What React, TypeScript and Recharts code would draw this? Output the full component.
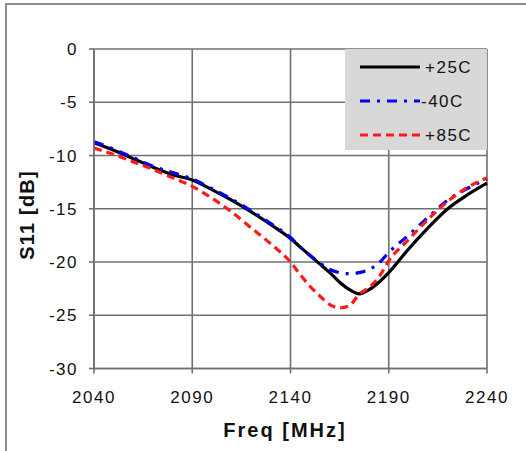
import { LineChart, Line, XAxis, YAxis, CartesianGrid, Legend } from "recharts";

// frequency points (MHz)
const freqs = [
  2040, 2050, 2060, 2070, 2080, 2090, 2100, 2110, 2120, 2130, 2140, 2145, 2150,
  2155, 2160, 2165, 2170, 2175, 2180, 2185, 2190, 2200, 2210, 2220, 2230, 2240,
];

// S11 [dB] per temperature
const s11Plus25 = [
  -8.8, -9.5, -10.3, -11.1, -11.8, -12.3, -13.2, -14.2, -15.3, -16.5, -17.8, -18.6, -19.4,
  -20.2, -21.0, -21.9, -22.6, -23.0, -22.6, -21.9, -21.0, -18.8, -16.8, -15.0, -13.7, -12.6,
];
const s11Minus40 = [
  -8.7, -9.4, -10.2, -11.0, -11.6, -12.2, -13.1, -14.1, -15.2, -16.4, -17.7, -18.6, -19.4,
  -20.1, -20.7, -21.0, -21.1, -21.0, -20.7, -20.1, -19.1, -17.5, -15.8, -14.2, -13.1, -12.2,
];
const s11Plus85 = [
  -9.3, -9.9, -10.6, -11.3, -12.1, -12.9, -14.0, -15.3, -16.8, -18.3, -20.0, -21.2, -22.3,
  -23.2, -24.0, -24.3, -24.1, -23.0, -22.4, -21.4, -19.9, -17.9, -16.0, -14.3, -13.0, -12.1,
];

const seriesNames = ["+25C", "-40C", "+85C"];
const xTicks = [2040, 2090, 2140, 2190, 2240];
const yTicks = [0, -5, -10, -15, -20, -25, -30];

const data = freqs.map((f, i) => ({
  freq: f,
  t25: s11Plus25[i],
  t40: s11Minus40[i],
  t85: s11Plus85[i],
}));

const FONT = "'Liberation Sans', Arial, sans-serif";
const GRID = "#707070";

const lineStyles = [
  { key: "t25", color: "#000000", dash: undefined },
  { key: "t40", color: "#0000ee", dash: "10 7 3 7" },
  { key: "t85", color: "#ff1a1a", dash: "8 5" },
];

function XTick(props: any) {
  const { x, y, payload } = props;
  return (
    <text x={x} y={y} dy="0.71em" textAnchor="middle" fontFamily={FONT} fontSize={17} letterSpacing={1.5} fill="#111">
      {payload.value}
    </text>
  );
}

function YTick(props: any) {
  const { x, y, payload } = props;
  return (
    <text x={x} y={y} dy="0.355em" textAnchor="end" fontFamily={FONT} fontSize={17} letterSpacing={1.5} fill="#111">
      {payload.value}
    </text>
  );
}

function LegendBox() {
  const rows = [18, 52, 86];
  return (
    <svg width={142} height={101} style={{ display: "block", background: "#d8d8d8" }}>
      {lineStyles.map((s, i) => (
        <g key={s.key}>
          <line
            x1={15}
            x2={75}
            y1={rows[i]}
            y2={rows[i]}
            stroke={s.color}
            strokeWidth={3}
            strokeDasharray={s.dash}
          />
          <text x={i === 1 ? 76 : 80} y={rows[i]} dy="0.355em" fontFamily={FONT} fontSize={17} letterSpacing={1.5} fill="#111">
            {seriesNames[i]}
          </text>
        </g>
      ))}
    </svg>
  );
}

export default function App() {
  return (
    <div style={{ position: "absolute", left: 0, top: 0, width: 526, height: 451, background: "#fff", overflow: "hidden" }}>
      <div
        style={{
          position: "absolute",
          left: 5,
          top: 3,
          right: -4,
          bottom: -4,
          borderTop: "2px solid #8c8c8c",
          borderLeft: "2px solid #8c8c8c",
        }}
      />
      <div style={{ position: "absolute", left: 0, top: 0 }}>
        <LineChart width={526} height={451} data={data} margin={{ top: 49, right: 39, left: 0, bottom: 0 }}>
          <CartesianGrid stroke={GRID} strokeWidth={1.6} horizontalValues={yTicks} verticalValues={xTicks} />
          <XAxis
            dataKey="freq"
            type="number"
            domain={[2040, 2240]}
            ticks={xTicks}
            height={82.5}
            tickSize={5}
            tickMargin={17}
            tick={<XTick />}
            stroke={GRID}
            strokeWidth={1.6}
            label={{
              content: (p: any) => {
                const vb = p.viewBox;
                return (
                  <text x={285} y={vb.y + 68} textAnchor="middle" fontFamily={FONT} fontWeight="bold" fontSize={20} letterSpacing={2} fill="#111">
                    Freq [MHz]
                  </text>
                );
              },
            }}
          />
          <YAxis
            type="number"
            domain={[-30, 0]}
            ticks={yTicks}
            width={94}
            tickSize={5}
            tickMargin={11}
            tick={<YTick />}
            stroke={GRID}
            strokeWidth={1.6}
            label={{
              content: () => (
                <text
                  x={0}
                  y={0}
                  transform="translate(34 215) rotate(-90)"
                  textAnchor="middle"
                  fontFamily={FONT}
                  fontWeight="bold"
                  fontSize={20}
                  letterSpacing={1.2}
                  fill="#111"
                >
                  S11 [dB]
                </text>
              ),
            }}
          />
          <Legend
            layout="horizontal"
            verticalAlign="middle"
            align="center"
            wrapperStyle={{ left: 345, top: 49, width: 142, height: 101 }}
            content={() => <LegendBox />}
          />
          {lineStyles.map((s, i) => (
            <Line
              key={s.key}
              type="monotone"
              dataKey={s.key}
              name={seriesNames[i]}
              stroke={s.color}
              strokeWidth={3.2}
              strokeDasharray={s.dash}
              dot={false}
              isAnimationActive={false}
            />
          ))}
        </LineChart>
      </div>
    </div>
  );
}
